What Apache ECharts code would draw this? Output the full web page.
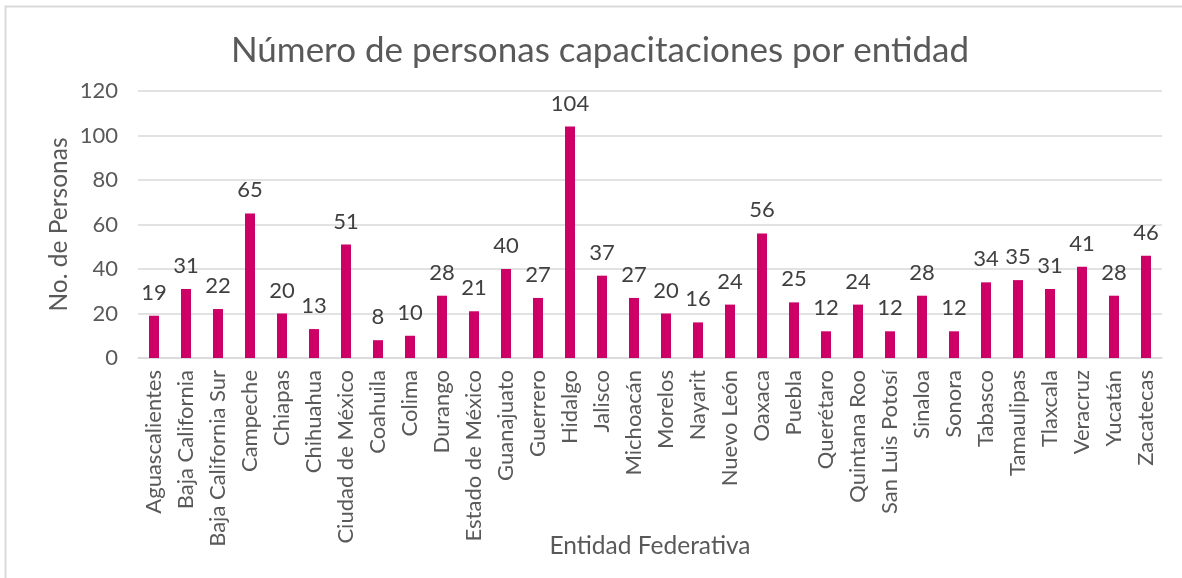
<!DOCTYPE html>
<html>
<head>
<meta charset="utf-8">
<script src="https://cdn.jsdelivr.net/npm/echarts@6/dist/echarts.min.js"></script>
<style>
html,body{margin:0;padding:0;background:#fff;}
#c{width:1182px;height:578px;}
</style>
</head>
<body>
<div id="c"></div>
<script>
var categories = ["Aguascalientes","Baja California","Baja California Sur","Campeche","Chiapas","Chihuahua","Ciudad de México","Coahuila","Colima","Durango","Estado de México","Guanajuato","Guerrero","Hidalgo","Jalisco","Michoacán","Morelos","Nayarit","Nuevo León","Oaxaca","Puebla","Querétaro","Quintana Roo","San Luis Potosí","Sinaloa","Sonora","Tabasco","Tamaulipas","Tlaxcala","Veracruz","Yucatán","Zacatecas"];
var values = [19,31,22,65,20,13,51,8,10,28,21,40,27,104,37,27,20,16,24,56,25,12,24,12,28,12,34,35,31,41,28,46];
var yTicks = [0,20,40,60,80,100,120];

var FONT = 'Lato';
var chart = echarts.init(document.getElementById('c'), null, {renderer:'canvas'});
chart.setOption({
  backgroundColor:'#fff',
  animation:false,
  textStyle:{fontFamily:FONT},
  title:{
    text:'Número de personas capacitaciones por entidad',
    left:595, top:28, textAlign:'center',
    textStyle:{fontFamily:FONT, fontSize:35, fontWeight:'normal', color:'#595959'}
  },
  graphic:[{
    type:'rect', shape:{x:5.5,y:6.5,width:1200,height:600},
    style:{fill:'none', stroke:'#d9d9d9', lineWidth:2}, silent:true
  }],
  grid:{left:138, right:20, top:91, bottom:220, containLabel:false},
  xAxis:{
    type:'category', data:categories,
    name:'Entidad Federativa', nameLocation:'middle', nameGap:176, nameMoveOverlap:false,
    nameTextStyle:{fontFamily:FONT, fontSize:24.5, color:'#595959'},
    axisLine:{show:true, lineStyle:{color:'#d9d9d9', width:1.5}},
    axisTick:{show:false},
    axisLabel:{rotate:90, interval:0, margin:12, fontFamily:FONT, fontSize:22, color:'#595959'}
  },
  yAxis:{
    type:'value', min:0, max:120, interval:20,
    name:'No. de Personas', nameLocation:'middle', nameGap:66, nameMoveOverlap:false,
    nameTextStyle:{fontFamily:FONT, fontSize:24.5, color:'#595959'},
    axisLine:{show:false}, axisTick:{show:false},
    splitLine:{lineStyle:{color:'#d9d9d9', width:1.5}},
    axisLabel:{margin:20, fontFamily:FONT, fontSize:22, color:'#595959',
      formatter:function(v){return yTicks.indexOf(v)>=0? String(v):'';}}
  },
  series:[{
    type:'bar', data:values, barWidth:10,
    itemStyle:{color:'#CC0066'},
    label:{show:true, position:'top', distance:12, fontFamily:FONT, fontSize:22, color:'#404040'}
  }]
});
</script>
</body>
</html>
